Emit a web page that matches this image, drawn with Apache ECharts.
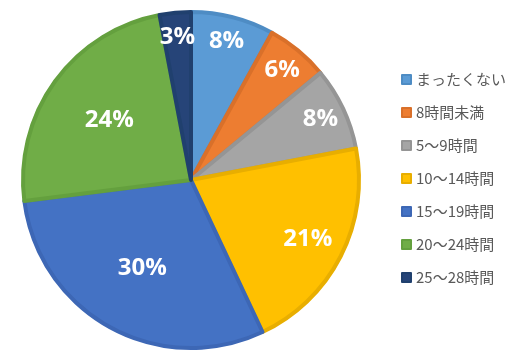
<!DOCTYPE html>
<html><head><meta charset="utf-8">
<script src="https://cdn.jsdelivr.net/npm/echarts@6/dist/echarts.min.js"></script>
<style>html,body{margin:0;padding:0;background:#fff}#c{width:528px;height:356px}</style>
</head><body><div id="c"></div>
<script>
const categories = ['まったくない','8時間未満','5～9時間','10～14時間','15～19時間','20～24時間','25～28時間'];
const values = [8, 6, 8, 21, 30, 24, 3];
const colors = ['#5B9BD5','#ED7D31','#A5A5A5','#FFC000','#4472C4','#70AD47','#264478'];
const borders = ['#4E8CC4','#D9702A','#959595','#E8AE00','#3D67B5','#64A03E','#20406E'];
// which label ring each slice's label uses: 0 outer, 1 middle, 2 inner
const labelRing = [0, 0, 0, 1, 2, 2, 0];

const chart = echarts.init(document.getElementById('c'));
const center = [191, 180];
const R = 168;
const mainData = categories.map((n,i)=>({name:n,value:values[i],itemStyle:{color:colors[i],borderColor:borders[i],borderWidth:4}}));
const labelFont = {color:'#fff',fontSize:24,fontWeight:'bold',fontFamily:'Open Sans'};
function labelSeries(ring, radius){
  return {
    type:'pie', center, radius, startAngle:90, silent:true, z:5,
    data: categories.map((n,i)=>({name:n,value:values[i],
      itemStyle:{color:'rgba(0,0,0,0)',borderWidth:0},
      label:{show: labelRing[i]===ring}})),
    label:Object.assign({position:'inside',formatter:'{c}%'},labelFont),
    labelLine:{show:false}, emphasis:{disabled:true}, tooltip:{show:false}
  };
}
chart.setOption({
  animation:false,
  legend:{orient:'vertical',left:396,top:67,itemWidth:9,itemHeight:9,itemGap:18,icon:'rect',
    data:categories,
    textStyle:{color:'#595959',fontSize:15,fontFamily:'Noto Sans CJK JP'}},
  series:[
    {type:'pie',center,radius:[0,R],startAngle:90,data:mainData,label:{show:false},labelLine:{show:false},emphasis:{disabled:true}},
    labelSeries(0,[112,R]),
    labelSeries(1,[88,R]),
    labelSeries(2,[28,R])
  ]
});
</script></body></html>
